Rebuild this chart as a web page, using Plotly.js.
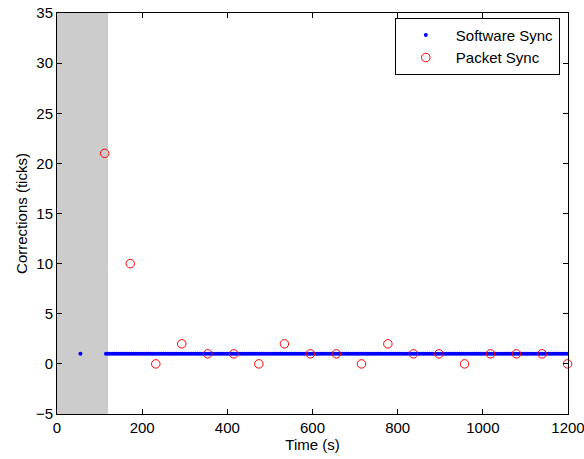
<!DOCTYPE html>
<html>
<head>
<meta charset="utf-8">
<script src="https://cdn.plot.ly/plotly-3.0.1.min.js"></script>
<style>html,body{margin:0;padding:0;background:#fff;}#chart{width:584px;height:459px;}</style>
</head>
<body>
<div id="chart"></div>
<script>
// Software Sync samples (time in s, correction in ticks)
const softwareTime = [55,
  115,120,125,130,135,140,145,150,155,160,165,170,175,180,185,190,195,200,
  205,210,215,220,225,230,235,240,245,250,255,260,265,270,275,280,285,290,
  295,300,305,310,315,320,325,330,335,340,345,350,355,360,365,370,375,380,
  385,390,395,400,405,410,415,420,425,430,435,440,445,450,455,460,465,470,
  475,480,485,490,495,500,505,510,515,520,525,530,535,540,545,550,555,560,
  565,570,575,580,585,590,595,600,605,610,615,620,625,630,635,640,645,650,
  655,660,665,670,675,680,685,690,695,700,705,710,715,720,725,730,735,740,
  745,750,755,760,765,770,775,780,785,790,795,800,805,810,815,820,825,830,
  835,840,845,850,855,860,865,870,875,880,885,890,895,900,905,910,915,920,
  925,930,935,940,945,950,955,960,965,970,975,980,985,990,995,1000,1005,1010,
  1015,1020,1025,1030,1035,1040,1045,1050,1055,1060,1065,1070,1075,1080,1085,1090,1095,1100,
  1105,1110,1115,1120,1125,1130,1135,1140,1145,1150,1155,1160,1165,1170,1175,1180,1185,1190,
  1195,1200];
const softwareValue = softwareTime.map(() => 1); // every sample reads 1 tick

// Packet Sync samples
const packetTime  = [112, 172, 232, 293, 354, 415, 474, 534, 595, 656, 715, 777, 837, 897, 957, 1018, 1079, 1139, 1199];
const packetValue = [21, 10, 0, 2, 1, 1, 0, 2, 1, 1, 0, 2, 1, 1, 0, 1, 1, 1, 0];

// shaded start-up interval (s)
const shadedInterval = [0, 120];

const xTicks = [0, 200, 400, 600, 800, 1000, 1200];
const yTicks = [-5, 0, 5, 10, 15, 20, 25, 30, 35];

const font = {family: 'Liberation Sans, Arial, Helvetica, sans-serif', color: '#000'};

const traces = [
  {x: softwareTime, y: softwareValue, type: 'scatter', mode: 'markers', name: 'Software Sync',
   marker: {color: '#0000ff', size: 4, symbol: 'circle', line: {width: 0}}},
  {x: packetTime, y: packetValue, type: 'scatter', mode: 'markers', name: 'Packet Sync',
   marker: {color: '#ff0000', size: 8.5, symbol: 'circle-open', line: {color: '#ff0000', width: 1}}, cliponaxis: false}
];

const axisCommon = {
  showgrid: false, zeroline: false, showline: true, linecolor: '#000', linewidth: 1,
  mirror: 'ticks', ticks: 'inside', ticklen: 5, tickwidth: 1, tickcolor: '#000',
  ticklabeloverflow: 'allow',
  tickfont: Object.assign({size: 15}, font)
};

const layout = {
  width: 584, height: 459,
  margin: {l: 57, r: 16, t: 13, b: 45},
  paper_bgcolor: '#fff', plot_bgcolor: '#fff',
  font: font,
  showlegend: true,
  xaxis: Object.assign({}, axisCommon, {
    range: [0, 1200], tickmode: 'array', tickvals: xTicks, ticktext: xTicks.map(String),
    title: {text: 'Time (s)', font: Object.assign({size: 15}, font), standoff: 2}
  }),
  yaxis: Object.assign({}, axisCommon, {
    range: [-5, 35], tickmode: 'array', tickvals: yTicks, ticktext: yTicks.map(v => v < 0 ? '\u2212' + Math.abs(v) : String(v)),
    title: {text: 'Corrections (ticks)', font: Object.assign({size: 15}, font), standoff: 4}
  }),
  shapes: [{type: 'rect', xref: 'x', yref: 'paper', x0: shadedInterval[0], x1: shadedInterval[1], y0: 0, y1: 1,
            fillcolor: '#cccccc', line: {width: 0}, layer: 'below'}],
  legend: {x: 0.984, xanchor: 'right', y: 0.988, yanchor: 'top', bgcolor: '#fff',
           bordercolor: '#000', borderwidth: 1, font: Object.assign({size: 15}, font),
           itemwidth: 50, tracegroupgap: 0}
};

Plotly.newPlot('chart', traces, layout, {displayModeBar: false, staticPlot: true});
</script>
</body>
</html>
